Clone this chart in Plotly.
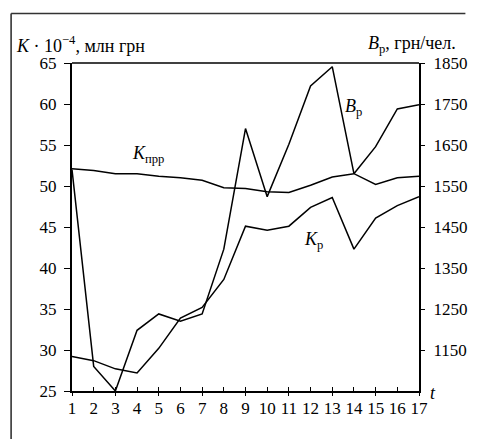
import plotly.graph_objects as go

t = list(range(1, 18))
k_prr = [52.1, 51.9, 51.5, 51.5, 51.2, 51.0, 50.7, 49.8, 49.7, 49.3, 49.2, 50.1, 51.1, 51.5, 50.2, 51.0, 51.2]
k_r = [29.2, 28.7, 27.7, 27.2, 30.2, 33.9, 35.2, 38.6, 45.1, 44.6, 45.1, 47.4, 48.6, 42.3, 46.1, 47.6, 48.7]
b_r = [1590, 1110, 1050, 1198, 1238, 1220, 1238, 1396, 1690, 1524, 1652, 1794, 1841, 1580, 1646, 1738, 1748]

left_ticks = [25, 30, 35, 40, 45, 50, 55, 60, 65]
right_ticks = [1150, 1250, 1350, 1450, 1550, 1650, 1750, 1850]
odd_ticks = [1, 3, 5, 7, 9, 11, 13, 15, 17]

FONT = "Liberation Serif"
line = dict(color="black", width=1.5)

fig = go.Figure()
fig.add_trace(go.Scatter(x=t, y=k_prr, mode="lines", line=line, name="Kпрр", yaxis="y"))
fig.add_trace(go.Scatter(x=t, y=k_r, mode="lines", line=line, name="Kр", yaxis="y"))
fig.add_trace(go.Scatter(x=t, y=b_r, mode="lines", line=line, name="Bр", yaxis="y2"))
fig.add_trace(go.Scatter(x=[t[0]], y=[k_prr[0]], mode="markers", marker=dict(opacity=0),
                         xaxis="x2", yaxis="y", hoverinfo="skip", showlegend=False))

W, H = 479, 439
L, T = 72, 63
R = W - 431
B = H - 391
pw, ph = W - L - R, H - T - B

def px(xp):
    return (xp - L) / pw

def py(yp):
    return (H - B - yp) / ph

tf = dict(size=17, family=FONT, color="black")
af = dict(size=18, family=FONT, color="black")
frame = dict(color="#333333", width=1.6)

fig.update_layout(
    width=W, height=H,
    margin=dict(l=L, r=R, t=T, b=B, pad=0),
    paper_bgcolor="white", plot_bgcolor="white",
    showlegend=False,
    font=dict(family=FONT, size=17, color="black"),
    xaxis=dict(range=[1, 17], tickvals=t, ticktext=[str(v) for v in t],
               ticks="inside", ticklen=4, tickwidth=1.3, tickcolor="black",
               showline=True, linewidth=2, linecolor="black",
               showgrid=False, zeroline=False, tickfont=tf, ticklabelstandoff=1),
    xaxis2=dict(range=[1, 17], overlaying="x", anchor="y", side="bottom",
                tickvals=odd_ticks, showticklabels=False,
                ticks="outside", ticklen=4, tickwidth=1.3, tickcolor="black",
                showline=False, showgrid=False, zeroline=False),
    yaxis=dict(range=[25, 65], tickvals=left_ticks,
               ticks="outside", ticklen=6, tickwidth=1.3, tickcolor="black",
               showline=True, linewidth=2, linecolor="black",
               showgrid=False, zeroline=False, tickfont=tf, ticklabelstandoff=4),
    yaxis2=dict(range=[1050, 1850], tickvals=right_ticks, overlaying="y", side="right",
                ticks="outside", ticklen=4, tickwidth=1.3, tickcolor="black",
                showline=True, linewidth=2, linecolor="black",
                showgrid=False, zeroline=False, tickfont=tf, ticklabelstandoff=5),
    shapes=[
        dict(type="line", xref="paper", yref="paper", x0=0, x1=1, y0=1, y1=1,
             line=dict(color="black", width=1.3)),
        # outer frame: left and top edges (right/bottom fall outside the picture)
        dict(type="line", xref="paper", yref="paper",
             x0=px(9), x1=px(9), y0=py(439), y1=py(13.5), line=frame),
        dict(type="line", xref="paper", yref="paper",
             x0=px(9), x1=px(479), y0=py(13.5), y1=py(13.5), line=frame),
    ],
    annotations=[
        dict(text="<i>K</i> · 10<sup>−4</sup>, млн грн", xref="paper", yref="paper",
             x=px(12), y=py(45), xanchor="left", yanchor="middle", showarrow=False,
             font=af),
        dict(text="<i>B</i><sub>р</sub>, грн/чел.", xref="paper", yref="paper",
             x=px(376), y=py(44), xanchor="left", yanchor="middle", showarrow=False,
             font=af),
        dict(text="<i>K</i><sub>прр</sub>", x=4.5, y=53.9, xref="x", yref="y",
             showarrow=False, font=af),
        dict(text="<i>B</i><sub>р</sub>", x=14.0, y=59.6, xref="x", yref="y",
             showarrow=False, font=af),
        dict(text="<i>K</i><sub>р</sub>", x=12.15, y=43.3, xref="x", yref="y",
             showarrow=False, font=af),
        dict(text="<i>t</i>", xref="paper", yref="paper", x=px(445), y=py(393),
             xanchor="center", yanchor="middle", showarrow=False,
             font=af),
    ],
)

fig.write_html(
    "out.html",
    config={"displayModeBar": False},
    post_script="document.body.style.margin='0';document.body.style.overflow='hidden';",
)
